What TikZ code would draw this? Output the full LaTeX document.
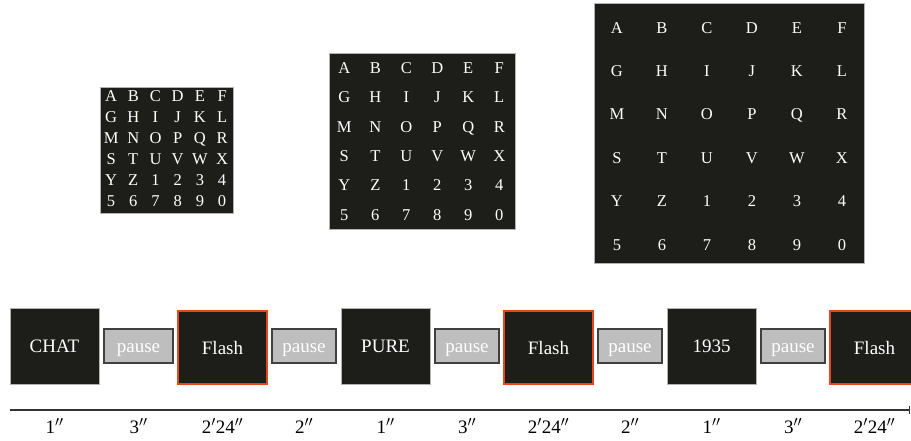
\documentclass[tikz,border=0pt]{standalone}
\usepackage{fontspec}
\setmainfont{Liberation Serif}
\usepackage{array}
\usetikzlibrary{positioning}

\definecolor{boxblack}{HTML}{1D1D1A}
\definecolor{pausegray}{HTML}{BEBEBE}
\definecolor{flashred}{HTML}{E8451F}

% six by six board of letters and digits
\newcommand{\lettergrid}[2]{%
	\setlength{\tabcolsep}{0pt}\renewcommand{\arraystretch}{#2}%
	\begin{tabular}{*{6}{>{\centering\arraybackslash}p{#1}}}
		A & B & C & D & E & F\\
		G & H & I & J & K & L\\
		M & N & O & P & Q & R\\
		S & T & U & V & W & X\\
		Y & Z & 1 & 2 & 3 & 4\\
		5 & 6 & 7 & 8 & 9 & 0
	\end{tabular}}

\begin{document}
\begin{tikzpicture}[x=1pt,y=-1pt,node distance=5pt,
	gridnode/.style={fill=boxblack,draw=gray!60,line width=0.6pt,text=white,inner sep=0pt,font=\fontsize{16.5}{20}\selectfont},
	darknode/.style={fill=boxblack,draw=gray!60,line width=0.6pt,text=white,inner sep=0pt,outer sep=0pt,minimum width=89pt,minimum height=76pt,font=\fontsize{19}{22}\selectfont},
	flashnode/.style={darknode,draw=flashred,line width=1.2pt,minimum height=73pt},
	pausenode/.style={fill=pausegray,draw=black!75,line width=1.1pt,text=white,inner sep=0pt,outer sep=0pt,minimum width=64pt,minimum height=34pt,text height=13pt,text depth=0pt,font=\fontsize{19}{22}\selectfont},
	timenode/.style={anchor=base,yshift=-23pt,inner sep=0pt,font=\fontsize{19}{22}\selectfont}]
		\useasboundingbox (0,0) rectangle (911,441);

		\node[gridnode] at (166.6,150)						(small)		{\lettergrid{22.2pt}{1.05}};
		\node[gridnode,node distance=95pt,right=of small,yshift=9pt]	(medium)	{\lettergrid{31pt}{1.465}};
		\node[gridnode,node distance=79pt,right=of medium,yshift=8pt]	(large)		{\lettergrid{45pt}{2.167}};

		\node[darknode] at (54.5,346)						(chat)		{CHAT};
		\node[pausenode,right=of chat,minimum width=69pt]		(pauseA)	{pause};
		\node[flashnode,right=of pauseA,yshift=-1.5pt]		(flashA)	{Flash};
		\node[pausenode,right=of flashA,yshift=1.5pt]		(pauseB)	{pause};
		\node[darknode,right=of pauseB]						(pure)		{PURE};
		\node[pausenode,right=of pure]						(pauseC)	{pause};
		\node[flashnode,right=of pauseC,yshift=-1.5pt]		(flashB)	{Flash};
		\node[pausenode,right=of flashB,yshift=1.5pt]		(pauseD)	{pause};
		\node[darknode,right=of pauseD]						(year)		{1935};
		\node[pausenode,right=of year]						(pauseE)	{pause};
		\node[flashnode,right=of pauseE,yshift=-1.5pt]		(flashC)	{Flash};

		\coordinate (axis)		at (10,410);
		\coordinate (axisend)	at (910,410);
		\draw[black!80,line width=1.2pt,-|] (axis) -- (axisend);

		\node[timenode] at (chat |- axis)		(tchat)		{1$''$};
		\node[timenode] at (pauseA |- axis)		(tpauseA)	{3$''$};
		\node[timenode] at (flashA |- axis)		(tflashA)	{2$'$24$''$};
		\node[timenode] at (pauseB |- axis)		(tpauseB)	{2$''$};
		\node[timenode] at (pure |- axis)		(tpure)		{1$''$};
		\node[timenode] at (pauseC |- axis)		(tpauseC)	{3$''$};
		\node[timenode] at (flashB |- axis)		(tflashB)	{2$'$24$''$};
		\node[timenode] at (pauseD |- axis)		(tpauseD)	{2$''$};
		\node[timenode] at (year |- axis)		(tyear)		{1$''$};
		\node[timenode] at (pauseE |- axis)		(tpauseE)	{3$''$};
		\node[timenode] at (flashC |- axis)		(tflashC)	{2$'$24$''$};
	\end{tikzpicture}
\end{document}
